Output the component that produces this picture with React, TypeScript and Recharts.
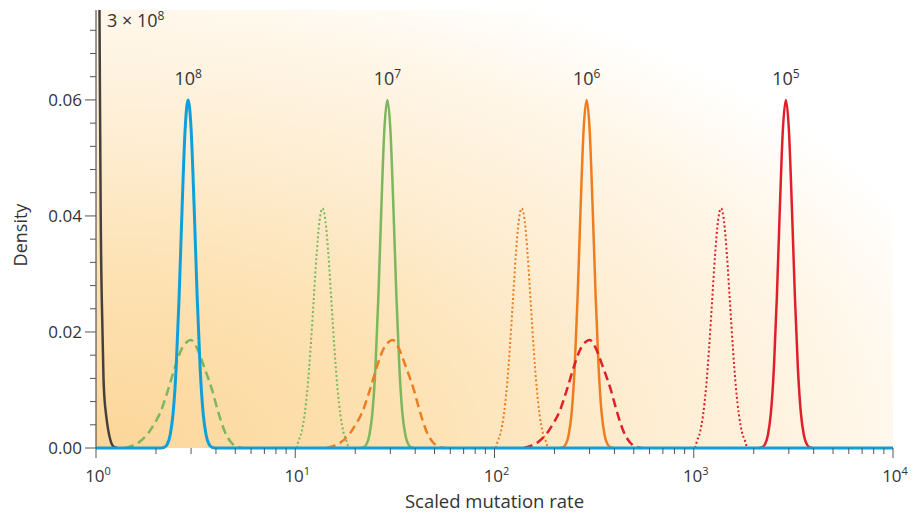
import { LineChart, Line, XAxis, YAxis, ReferenceArea, ReferenceDot } from 'recharts';

// x axis (log scale) ticks
const xTicks = [
  1, 2, 3, 4, 5, 6, 7, 8, 9,
  10, 20, 30, 40, 50, 60, 70, 80, 90,
  100, 200, 300, 400, 500, 600, 700, 800, 900,
  1000, 2000, 3000, 4000, 5000, 6000, 7000, 8000, 9000,
  10000,
];
const xMajorTicks = [1, 10, 100, 1000, 10000];
const xTickExponents = ['0', '1', '2', '3', '4'];

// y axis ticks
const yTicks = [
  0, 0.004, 0.008, 0.012, 0.016, 0.02, 0.024, 0.028, 0.032, 0.036, 0.04,
  0.044, 0.048, 0.052, 0.056, 0.06, 0.064, 0.068, 0.072,
];
const yMajorTicks = [0, 0.02, 0.04, 0.06];
const yTickLabels = ['0.00', '0.02', '0.04', '0.06'];
const yMax = 0.0755;

// 3 x 10^8 (tail only, runs off the top)
const blackX = [1.041, 1.047, 1.056, 1.078, 1.0905, 1.1031, 1.123, 1.149, 1.176, 1.203, 1.2313, 1.2747];
const blackY = [0.0755, 0.06, 0.04, 0.02, 0.012, 0.0085, 0.0058, 0.0033, 0.0016, 0.0006, 0.0002, 0];

// solid peaks
const solidDensity = [
  0, 0.0001, 0.0006, 0.0022, 0.006, 0.0138, 0.0262, 0.0416, 0.0549, 0.06,
  0.0549, 0.0416, 0.0262, 0.0138, 0.006, 0.0022, 0.0006, 0.0001, 0,
];
const blueX = [1, 2.123, 2.197, 2.275, 2.355, 2.438, 2.525, 2.614, 2.706, 2.801, 2.9, 3.002, 3.108, 3.218, 3.331, 3.449, 3.571, 3.697, 3.827, 3.962, 10000];
const blueY = [0, ...solidDensity, 0];
const greenSolidX = [21.23, 21.97, 22.75, 23.55, 24.38, 25.25, 26.14, 27.06, 28.01, 29, 30.02, 31.08, 32.18, 33.31, 34.49, 35.71, 36.97, 38.27, 39.62];
const orangeSolidX = [212.3, 219.7, 227.5, 235.5, 243.8, 252.5, 261.4, 270.6, 280.1, 290, 300.2, 310.8, 321.8, 333.1, 344.9, 357.1, 369.7, 382.7, 396.2];
const redSolidX = [2123, 2197, 2275, 2355, 2438, 2525, 2614, 2706, 2801, 2900, 3002, 3108, 3218, 3331, 3449, 3571, 3697, 3827, 3962];

// dotted peaks
const dottedDensity = [
  0, 0.0012, 0.0027, 0.0056, 0.0103, 0.017, 0.025, 0.0331, 0.0391, 0.0413,
  0.0391, 0.0331, 0.025, 0.017, 0.0103, 0.0056, 0.0027, 0.0012, 0,
];
const greenDottedX = [10.142, 10.381, 10.748, 11.126, 11.519, 11.927, 12.347, 12.782, 13.233, 13.7, 14.184, 14.684, 15.202, 15.737, 16.293, 16.869, 17.463, 18.08, 18.506];
const orangeDottedX = [101.42, 103.81, 107.48, 111.26, 115.19, 119.27, 123.47, 127.82, 132.33, 137, 141.84, 146.84, 152.02, 157.37, 162.93, 168.69, 174.63, 180.8, 185.06];
const redDottedX = [1014.2, 1038.1, 1074.8, 1112.6, 1151.9, 1192.7, 1234.7, 1278.2, 1323.3, 1370, 1418.4, 1468.4, 1520.2, 1573.7, 1629.3, 1686.9, 1746.3, 1808, 1850.6];

// dashed peaks
const dashedDensity = [
  0, 0.0003, 0.001, 0.0025, 0.0041, 0.006, 0.01, 0.014, 0.0172, 0.0183, 0.0186,
  0.0175, 0.014, 0.01, 0.0063, 0.0027, 0.001, 0.0002, 0,
];
const greenDashedX = [1.399, 1.5, 1.645, 1.825, 1.956, 2.096, 2.3, 2.494, 2.704, 2.865, 3.0, 3.179, 3.486, 3.824, 4.098, 4.445, 4.763, 5.105, 5.471];
const orangeDashedX = [14.41, 15.45, 16.94, 18.8, 20.14, 21.59, 23.69, 25.68, 27.85, 29.5, 30.9, 32.74, 35.91, 39.39, 42.21, 45.78, 49.06, 52.58, 56.35];
const redDashedX = [140.4, 150.5, 165.0, 183.1, 196.2, 210.3, 230.7, 250.2, 271.3, 287.4, 301, 318.9, 349.8, 383.7, 411.2, 446.0, 477.9, 512.2, 548.9];

// peak annotations
const peakLabelX = [2.9, 29, 290, 2900];
const peakLabelExp = ['8', '7', '6', '5'];
const peakLabelY = 0.0626;

const BLUE = '#0fa0dc';
const GREEN = '#7cb65d';
const ORANGE = '#ee7d22';
const RED = '#e11f2a';
const BLACK = '#46403d';
const AXIS = '#555';
const TEXT = '#333';
const FONT = '"Open Sans", sans-serif';

const pts = (xs: number[], ys: number[]) => xs.map((x, i) => ({ x, y: ys[i] }));

const XTick = (props: any) => {
  const { x, y, payload } = props;
  const idx = xMajorTicks.indexOf(payload.value);
  if (idx < 0) {
    return <line x1={x} x2={x} y1={y} y2={y + 6} stroke={AXIS} strokeWidth={1} />;
  }
  return (
    <g>
      <line x1={x} x2={x} y1={y} y2={y + 10} stroke={AXIS} strokeWidth={1} />
      <text x={x + 2} y={y + 34} textAnchor="middle" fill={TEXT} fontSize={17} fontFamily={FONT}>
        10<tspan dy={-7} fontSize={11}>{xTickExponents[idx]}</tspan>
      </text>
    </g>
  );
};

const YTick = (props: any) => {
  const { x, y, payload } = props;
  const idx = yMajorTicks.findIndex((v) => Math.abs(v - payload.value) < 1e-9);
  if (idx < 0) {
    return <line x1={x - 6} x2={x} y1={y} y2={y} stroke={AXIS} strokeWidth={1} />;
  }
  return (
    <g>
      <line x1={x - 11} x2={x} y1={y} y2={y} stroke={AXIS} strokeWidth={1} />
      <text x={x - 14} y={y + 6} textAnchor="end" fill={TEXT} fontSize={17} fontFamily={FONT}>
        {yTickLabels[idx]}
      </text>
    </g>
  );
};

const PeakLabel = (exp: string, anchor: 'middle' | 'start', prefix = '') => (props: any) => (
  <text x={props.cx} y={props.cy} textAnchor={anchor} fill={TEXT} fontSize={18} fontFamily={FONT}>
    {prefix}10<tspan dy={-7} fontSize={12}>{exp}</tspan>
  </text>
);

export default function App() {
  return (
    <div style={{ position: 'absolute', left: 0, top: 0, background: '#fff' }}>
      <LineChart width={918} height={514} margin={{ top: 10, right: 25, bottom: 0, left: 0 }}>
        <defs>
          <radialGradient id="bgGrad" cx="0" cy="1" r="1.15" fx="0" fy="1">
            <stop offset="0" stopColor="#fcd699" />
            <stop offset="0.35" stopColor="#fde2b3" />
            <stop offset="0.6" stopColor="#feedd1" />
            <stop offset="0.85" stopColor="#fff7ea" />
            <stop offset="1" stopColor="#ffffff" />
          </radialGradient>
        </defs>
        <ReferenceArea x1={1} x2={10000} y1={0} y2={yMax} fill="url(#bgGrad)" fillOpacity={1} stroke="none" />
        <XAxis
          dataKey="x"
          type="number"
          scale="log"
          domain={[1, 10000]}
          ticks={xTicks}
          interval={0}
          tick={<XTick />}
          tickSize={0}
          tickMargin={0}
          tickLine={false}
          axisLine={false}
          height={66}
          label={{
            content: (p: any) => (
              <text
                x={p.viewBox.x + p.viewBox.width / 2}
                y={p.viewBox.y + 60}
                textAnchor="middle"
                fill={TEXT}
                fontSize={18.5}
                fontFamily={FONT}
              >
                Scaled mutation rate
              </text>
            ),
          }}
        />
        <YAxis
          dataKey="y"
          type="number"
          domain={[0, yMax]}
          ticks={yTicks}
          interval={0}
          tick={<YTick />}
          tickSize={0}
          tickMargin={0}
          tickLine={false}
          axisLine={{ stroke: AXIS, strokeWidth: 1.2 }}
          width={96}
          label={{
            content: (p: any) => {
              const cx = 20;
              const cy = p.viewBox.y + p.viewBox.height / 2 + 6;
              return (
                <text
                  x={cx}
                  y={cy}
                  transform={`rotate(-90 ${cx} ${cy})`}
                  textAnchor="middle"
                  dominantBaseline="central"
                  fill={TEXT}
                  fontSize={18}
                  fontFamily={FONT}
                >
                  Density
                </text>
              );
            },
          }}
        />

        <Line data={pts(blackX, blackY)} dataKey="y" type="monotone" stroke={BLACK} strokeWidth={2.5} dot={false} activeDot={false} isAnimationActive={false} />

        <Line data={pts(greenDottedX, dottedDensity)} dataKey="y" type="monotone" stroke={GREEN} strokeWidth={2} strokeDasharray="2 2.4" dot={false} activeDot={false} isAnimationActive={false} />
        <Line data={pts(orangeDottedX, dottedDensity)} dataKey="y" type="monotone" stroke={ORANGE} strokeWidth={2} strokeDasharray="2 2.4" dot={false} activeDot={false} isAnimationActive={false} />
        <Line data={pts(redDottedX, dottedDensity)} dataKey="y" type="monotone" stroke={RED} strokeWidth={2} strokeDasharray="2 2.4" dot={false} activeDot={false} isAnimationActive={false} />

        <Line data={pts(redSolidX, solidDensity)} dataKey="y" type="monotone" stroke={RED} strokeWidth={2.5} dot={false} activeDot={false} isAnimationActive={false} />
        <Line data={pts(orangeSolidX, solidDensity)} dataKey="y" type="monotone" stroke={ORANGE} strokeWidth={2.5} dot={false} activeDot={false} isAnimationActive={false} />
        <Line data={pts(greenSolidX, solidDensity)} dataKey="y" type="monotone" stroke={GREEN} strokeWidth={2.5} dot={false} activeDot={false} isAnimationActive={false} />

        <Line data={pts(greenDashedX, dashedDensity)} dataKey="y" type="monotone" stroke={GREEN} strokeWidth={2.5} strokeDasharray="9 5" dot={false} activeDot={false} isAnimationActive={false} />
        <Line data={pts(orangeDashedX, dashedDensity)} dataKey="y" type="monotone" stroke={ORANGE} strokeWidth={2.5} strokeDasharray="9 5" dot={false} activeDot={false} isAnimationActive={false} />
        <Line data={pts(redDashedX, dashedDensity)} dataKey="y" type="monotone" stroke={RED} strokeWidth={2.5} strokeDasharray="9 5" dot={false} activeDot={false} isAnimationActive={false} />

        <Line data={pts(blueX, blueY)} dataKey="y" type="monotone" stroke={BLUE} strokeWidth={3} dot={false} activeDot={false} isAnimationActive={false} />

        {peakLabelX.map((px, i) => (
          <ReferenceDot key={px} x={px} y={peakLabelY} r={0} shape={PeakLabel(peakLabelExp[i], 'middle')} />
        ))}
        <ReferenceDot x={1.135} y={0.0726} r={0} shape={PeakLabel('8', 'start', '3 × ')} />
      </LineChart>
    </div>
  );
}
